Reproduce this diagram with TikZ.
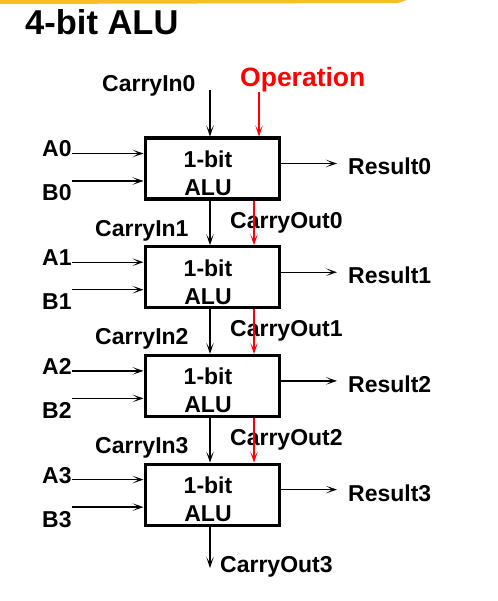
\documentclass[tikz,border=0pt]{standalone}
\usepackage{fontspec}
\setmainfont{Liberation Sans}
\usetikzlibrary{arrows.meta}
\definecolor{brush}{RGB}{247,190,40}
\definecolor{opred}{RGB}{255,0,0}
\begin{document}
\begin{tikzpicture}[x=1pt,y=-1pt,
  lbl/.style={inner sep=0pt,anchor=base west,font=\fontsize{23}{27}\selectfont\bfseries},
  alubox/.style={draw,line width=3.2pt,minimum width=134pt,minimum height=61pt,anchor=north west,inner sep=0pt},
  arr/.style={line width=1.4pt,-{Stealth[length=11pt,width=7.5pt,inset=6pt]}},
  redarr/.style={arr,draw=opred,fill=opred},
]
\useasboundingbox (0,0) rectangle (497,601);
\fill[brush] (0,0) -- (407,0) -- (398,3) -- (0,4) -- cycle;
\node[inner sep=0pt,anchor=base west,font=\fontsize{34.5}{40}\selectfont\bfseries] (title) at (25,35) {4-bit ALU};

\foreach \i in {0,...,3} {
  \pgfmathsetmacro{\ty}{136.5+108.7*\i}
  \node[alubox] (box\i) at (143.5,\ty) {};
  \node[lbl,anchor=base] (one\i) at (208,\ty+31) {1-bit};
  \node[lbl,anchor=base] (alu\i) at (208,\ty+59) {ALU};
  \node[lbl] (a\i) at (42,\ty+20.5) {A\i};
  \node[lbl] (b\i) at (42,\ty+64.5) {B\i};
  \coordinate (as\i) at (72,\ty+17);
  \coordinate (bs\i) at (72,\ty+44.5);
  \draw[arr] (as\i) -- (as\i -| box\i.west);
  \draw[arr] (bs\i) -- (bs\i -| box\i.west);
  \coordinate (re\i) at (337,\ty+27);
  \draw[arr] (re\i -| box\i.east) -- (re\i);
  \node[lbl] (res\i) at (348,\ty+38.5) {Result\i};
}

\node[lbl] (cin0l) at (102,92) {CarryIn0};
\coordinate (cin0) at (210,90);
\draw[arr] (cin0) -- (cin0 |- box0.north);

\foreach \i/\j in {0/1,1/2,2/3} {
  \pgfmathsetmacro{\ty}{136.5+108.7*\j}
  \node[lbl] (cinl\j) at (95,\ty-9) {CarryIn\j};
  \node[lbl] (coutl\i) at (230,\ty-17) {CarryOut\i};
  \draw[arr] (box\i.south -| cin0) -- (box\j.north -| cin0);
}

\coordinate (cout3) at (210,568);
\draw[arr] (box3.south -| cin0) -- (cout3);
\node[lbl] (coutl3) at (220,572) {CarryOut3};

\node[lbl,text=opred,font=\fontsize{26.5}{30}\selectfont\bfseries] (op) at (240,87) {Operation};
\coordinate (ops) at (259,92);
\draw[redarr] (ops) -- (ops |- box0.north);
\coordinate (rd) at (254,0);
\foreach \i/\j in {0/1,1/2,2/3} {
  \draw[redarr] (box\i.south -| rd) -- (box\j.north -| rd);
}
\end{tikzpicture}
\end{document}
